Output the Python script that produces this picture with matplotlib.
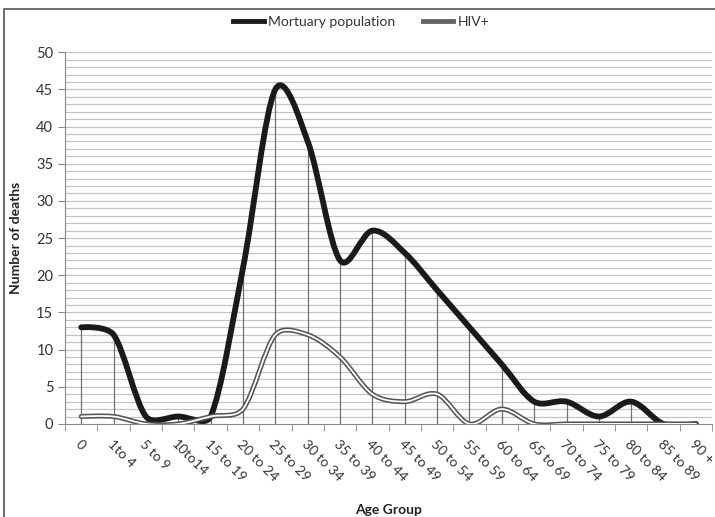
import numpy as np
import matplotlib.pyplot as plt
from matplotlib.path import Path
from matplotlib.patches import PathPatch, Rectangle
from matplotlib.lines import Line2D

plt.rcParams['font.family'] = ['Lato', 'DejaVu Sans']

age_groups = ['0', '1to 4', '5 to 9', '10to14', '15 to 19', '20 to 24', '25 to 29',
              '30 to 34', '35 to 39', '40 to 44', '45 to 49', '50 to 54', '55 to 59',
              '60 to 64', '65 to 69', '70 to 74', '75 to 79', '80 to 84', '85 to 89', '90 +']
mortuary = [13, 12, 1, 1, 1, 21, 45, 38, 22, 26, 23, 18, 13, 8, 3, 3, 1, 3, 0, 0]
hiv = [1, 1, 0, 0, 1, 2, 12, 12, 9, 4, 3, 4, 0, 2, 0, 0, 0, 0, 0, 0]


def smooth_path(ax, xs, ys, f=0.35):
    # smoothed line: catmull-rom style bezier, arms capped by on-screen segment length
    pts = np.column_stack([xs, ys]).astype(float)
    scr = ax.transData.transform(pts)
    n = len(pts)
    seg = np.hypot(*np.diff(scr, axis=0).T)
    arm_in = [np.zeros(2)] * n
    arm_out = [np.zeros(2)] * n
    for i in range(1, n - 1):
        tan = (pts[i + 1] - pts[i - 1]) / 6.0
        tan_px = (scr[i + 1] - scr[i - 1]) / 6.0
        L = np.hypot(*tan_px)
        if L == 0:
            continue
        arm_in[i] = -tan * min(1.0, f * seg[i - 1] / L)
        arm_out[i] = tan * min(1.0, f * seg[i] / L)
    verts = [pts[0]]
    codes = [Path.MOVETO]
    for i in range(n - 1):
        verts += [pts[i] + arm_out[i], pts[i + 1] + arm_in[i + 1], pts[i + 1]]
        codes += [Path.CURVE4] * 3
    return Path(verts, codes)


fig = plt.figure(figsize=(7.15, 5.17), dpi=100)
fig.patches.append(Rectangle((0.005, -0.1), 1.1, 1.1 - 9 / 517, transform=fig.transFigure,
                             fill=False, edgecolor='#555555', linewidth=1.2))
ax = fig.add_axes([0.091, 0.180, 0.905, 0.719])

x = np.arange(len(age_groups))
ax.set_xlim(-0.5, len(age_groups) - 0.5)
ax.set_ylim(0, 50)

# horizontal gridlines every unit
for v in range(1, 51):
    ax.axhline(v, color='#c4c4c4', linewidth=0.9, zorder=0)

# drop lines
ax.vlines(x, 0, mortuary, color='#707070', linewidth=0.9, zorder=1)

ax.add_patch(PathPatch(smooth_path(ax, x, mortuary), fill=False, edgecolor='#1a1a1a',
                       linewidth=4.2, capstyle='round', joinstyle='round', zorder=3))
hiv_path = smooth_path(ax, x, hiv)
ax.add_patch(PathPatch(hiv_path, fill=False, edgecolor='#555555',
                       linewidth=3.6, capstyle='round', joinstyle='round', zorder=4))
ax.add_patch(PathPatch(hiv_path, fill=False, edgecolor='white',
                       linewidth=1.3, capstyle='round', joinstyle='round', zorder=5))

ax.set_yticks(range(0, 51, 5))
ax.set_xticks(x)
ax.set_xticklabels(age_groups, rotation=-45, ha='left', va='top', rotation_mode='anchor',
                   fontsize=10, color='#333333')
ax.set_xticks(np.arange(-0.5, len(age_groups), 1), minor=True)
ax.tick_params(axis='x', which='major', length=0, pad=10)
ax.tick_params(axis='x', which='minor', length=5, color='#888888', direction='out')
ax.tick_params(axis='y', length=5, color='#888888', labelsize=10.5, labelcolor='#333333')

for s in ['top', 'right']:
    ax.spines[s].set_visible(False)
ax.spines['left'].set_color('#888888')
ax.spines['bottom'].set_color('#888888')

ax.set_ylabel('Number of deaths', fontsize=10, fontweight='bold', color='#222222', labelpad=10)
ax.set_xlabel('Age Group', fontsize=10, fontweight='bold', color='#222222')
ax.xaxis.set_label_coords(0.5, -0.215)

handles = [Line2D([], [], color='#1a1a1a', linewidth=3.5),
           Line2D([], [], color='#666666', linewidth=3.5)]
fig.legend(handles, ['Mortuary population', 'HIV+'], loc='center', bbox_to_anchor=(0.505, 0.957),
           ncol=2, frameon=False, fontsize=10, handlelength=2.2, handletextpad=0.3,
           columnspacing=2.0, labelcolor='#333333')

fig.savefig('out.png', dpi=100)
